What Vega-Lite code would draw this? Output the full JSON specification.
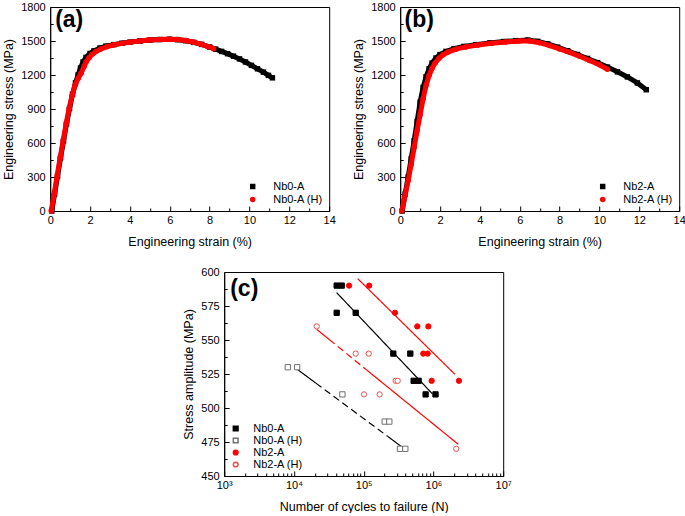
{
  "$schema": "https://vega.github.io/schema/vega-lite/v6.json",
  "padding": {"left": 2, "top": 0, "right": 0, "bottom": 0},
  "autosize": {"type": "pad"},
  "background": "white",
  "config": {
    "font": "Liberation Sans",
    "view": {"stroke": "#000", "strokeWidth": 1},
    "axis": {"grid": false, "domainColor": "#000", "tickColor": "#000", "labelColor": "#000", "titleColor": "#000", "labelFont": "Liberation Sans", "titleFont": "Liberation Sans", "labelFontSize": 11, "titleFontSize": 12.5, "titleFontWeight": "normal", "labelFlush": false, "labelOverlap": false, "labelBound": false, "tickWidth": 1, "domainWidth": 1},
    "legend": {"labelFont": "Liberation Sans", "labelFontSize": 11, "labelColor": "#000", "padding": 0}
  },
  "datasets": {
    "a": [
      {"s": "Nb0-A", "x": 0.08, "y": 0}, {"s": "Nb0-A", "x": 0.22, "y": 150}, {"s": "Nb0-A", "x": 0.37, "y": 310}, {"s": "Nb0-A", "x": 0.52, "y": 470}, {"s": "Nb0-A", "x": 0.67, "y": 620}, {"s": "Nb0-A", "x": 0.82, "y": 770}, {"s": "Nb0-A", "x": 0.97, "y": 905}, {"s": "Nb0-A", "x": 1.12, "y": 1030}, {"s": "Nb0-A", "x": 1.27, "y": 1130}, {"s": "Nb0-A", "x": 1.40, "y": 1200}, {"s": "Nb0-A", "x": 1.52, "y": 1262}, {"s": "Nb0-A", "x": 1.65, "y": 1315}, {"s": "Nb0-A", "x": 1.80, "y": 1355}, {"s": "Nb0-A", "x": 2.00, "y": 1390}, {"s": "Nb0-A", "x": 2.20, "y": 1413}, {"s": "Nb0-A", "x": 2.50, "y": 1438}, {"s": "Nb0-A", "x": 2.80, "y": 1455}, {"s": "Nb0-A", "x": 3.20, "y": 1468}, {"s": "Nb0-A", "x": 3.60, "y": 1480}, {"s": "Nb0-A", "x": 4.00, "y": 1490}, {"s": "Nb0-A", "x": 4.50, "y": 1500}, {"s": "Nb0-A", "x": 5.00, "y": 1508}, {"s": "Nb0-A", "x": 5.50, "y": 1513}, {"s": "Nb0-A", "x": 6.00, "y": 1515}, {"s": "Nb0-A", "x": 6.40, "y": 1512}, {"s": "Nb0-A", "x": 6.80, "y": 1503}, {"s": "Nb0-A", "x": 7.20, "y": 1488}, {"s": "Nb0-A", "x": 7.60, "y": 1470}, {"s": "Nb0-A", "x": 8.00, "y": 1447}, {"s": "Nb0-A", "x": 8.30, "y": 1428}, {"s": "Nb0-A", "x": 8.60, "y": 1408}, {"s": "Nb0-A", "x": 8.90, "y": 1388}, {"s": "Nb0-A", "x": 9.20, "y": 1366}, {"s": "Nb0-A", "x": 9.50, "y": 1342}, {"s": "Nb0-A", "x": 9.80, "y": 1315}, {"s": "Nb0-A", "x": 10.10, "y": 1285}, {"s": "Nb0-A", "x": 10.40, "y": 1255}, {"s": "Nb0-A", "x": 10.70, "y": 1225}, {"s": "Nb0-A", "x": 10.95, "y": 1197}, {"s": "Nb0-A", "x": 11.15, "y": 1175},
      {"s": "Nb0-A (H)", "x": 0.05, "y": 0}, {"s": "Nb0-A (H)", "x": 0.20, "y": 150}, {"s": "Nb0-A (H)", "x": 0.35, "y": 310}, {"s": "Nb0-A (H)", "x": 0.50, "y": 470}, {"s": "Nb0-A (H)", "x": 0.65, "y": 620}, {"s": "Nb0-A (H)", "x": 0.80, "y": 770}, {"s": "Nb0-A (H)", "x": 0.95, "y": 905}, {"s": "Nb0-A (H)", "x": 1.10, "y": 1020}, {"s": "Nb0-A (H)", "x": 1.25, "y": 1110}, {"s": "Nb0-A (H)", "x": 1.40, "y": 1170}, {"s": "Nb0-A (H)", "x": 1.55, "y": 1215}, {"s": "Nb0-A (H)", "x": 1.70, "y": 1275}, {"s": "Nb0-A (H)", "x": 1.80, "y": 1315}, {"s": "Nb0-A (H)", "x": 1.95, "y": 1352}, {"s": "Nb0-A (H)", "x": 2.10, "y": 1382}, {"s": "Nb0-A (H)", "x": 2.30, "y": 1407}, {"s": "Nb0-A (H)", "x": 2.55, "y": 1430}, {"s": "Nb0-A (H)", "x": 2.85, "y": 1450}, {"s": "Nb0-A (H)", "x": 3.20, "y": 1466}, {"s": "Nb0-A (H)", "x": 3.60, "y": 1479}, {"s": "Nb0-A (H)", "x": 4.00, "y": 1490}, {"s": "Nb0-A (H)", "x": 4.50, "y": 1500}, {"s": "Nb0-A (H)", "x": 5.00, "y": 1508}, {"s": "Nb0-A (H)", "x": 5.50, "y": 1513}, {"s": "Nb0-A (H)", "x": 6.00, "y": 1516}, {"s": "Nb0-A (H)", "x": 6.40, "y": 1513}, {"s": "Nb0-A (H)", "x": 6.80, "y": 1504}, {"s": "Nb0-A (H)", "x": 7.20, "y": 1489}, {"s": "Nb0-A (H)", "x": 7.60, "y": 1471}, {"s": "Nb0-A (H)", "x": 7.90, "y": 1452}, {"s": "Nb0-A (H)", "x": 8.20, "y": 1432}
    ],
    "b": [
      {"s": "Nb2-A", "x": 0.10, "y": 0}, {"s": "Nb2-A", "x": 0.25, "y": 150}, {"s": "Nb2-A", "x": 0.40, "y": 300}, {"s": "Nb2-A", "x": 0.55, "y": 460}, {"s": "Nb2-A", "x": 0.70, "y": 620}, {"s": "Nb2-A", "x": 0.85, "y": 790}, {"s": "Nb2-A", "x": 1.00, "y": 960}, {"s": "Nb2-A", "x": 1.15, "y": 1090}, {"s": "Nb2-A", "x": 1.30, "y": 1185}, {"s": "Nb2-A", "x": 1.45, "y": 1255}, {"s": "Nb2-A", "x": 1.60, "y": 1305}, {"s": "Nb2-A", "x": 1.80, "y": 1350}, {"s": "Nb2-A", "x": 2.00, "y": 1380}, {"s": "Nb2-A", "x": 2.30, "y": 1408}, {"s": "Nb2-A", "x": 2.70, "y": 1432}, {"s": "Nb2-A", "x": 3.20, "y": 1452}, {"s": "Nb2-A", "x": 3.80, "y": 1468}, {"s": "Nb2-A", "x": 4.50, "y": 1483}, {"s": "Nb2-A", "x": 5.20, "y": 1495}, {"s": "Nb2-A", "x": 5.80, "y": 1503}, {"s": "Nb2-A", "x": 6.40, "y": 1508}, {"s": "Nb2-A", "x": 6.90, "y": 1497}, {"s": "Nb2-A", "x": 7.40, "y": 1474}, {"s": "Nb2-A", "x": 7.90, "y": 1445}, {"s": "Nb2-A", "x": 8.40, "y": 1414}, {"s": "Nb2-A", "x": 8.90, "y": 1381}, {"s": "Nb2-A", "x": 9.40, "y": 1346}, {"s": "Nb2-A", "x": 9.90, "y": 1309}, {"s": "Nb2-A", "x": 10.40, "y": 1270}, {"s": "Nb2-A", "x": 10.90, "y": 1228}, {"s": "Nb2-A", "x": 11.40, "y": 1183}, {"s": "Nb2-A", "x": 11.90, "y": 1130}, {"s": "Nb2-A", "x": 12.35, "y": 1070},
      {"s": "Nb2-A (H)", "x": 0.08, "y": 0}, {"s": "Nb2-A (H)", "x": 0.25, "y": 140}, {"s": "Nb2-A (H)", "x": 0.40, "y": 270}, {"s": "Nb2-A (H)", "x": 0.55, "y": 410}, {"s": "Nb2-A (H)", "x": 0.70, "y": 560}, {"s": "Nb2-A (H)", "x": 0.85, "y": 710}, {"s": "Nb2-A (H)", "x": 1.00, "y": 850}, {"s": "Nb2-A (H)", "x": 1.15, "y": 990}, {"s": "Nb2-A (H)", "x": 1.30, "y": 1110}, {"s": "Nb2-A (H)", "x": 1.45, "y": 1195}, {"s": "Nb2-A (H)", "x": 1.60, "y": 1260}, {"s": "Nb2-A (H)", "x": 1.75, "y": 1305}, {"s": "Nb2-A (H)", "x": 1.95, "y": 1348}, {"s": "Nb2-A (H)", "x": 2.15, "y": 1378}, {"s": "Nb2-A (H)", "x": 2.40, "y": 1402}, {"s": "Nb2-A (H)", "x": 2.80, "y": 1428}, {"s": "Nb2-A (H)", "x": 3.30, "y": 1448}, {"s": "Nb2-A (H)", "x": 3.90, "y": 1465}, {"s": "Nb2-A (H)", "x": 4.60, "y": 1480}, {"s": "Nb2-A (H)", "x": 5.30, "y": 1492}, {"s": "Nb2-A (H)", "x": 6.00, "y": 1500}, {"s": "Nb2-A (H)", "x": 6.50, "y": 1500}, {"s": "Nb2-A (H)", "x": 7.00, "y": 1485}, {"s": "Nb2-A (H)", "x": 7.50, "y": 1460}, {"s": "Nb2-A (H)", "x": 8.00, "y": 1430}, {"s": "Nb2-A (H)", "x": 8.50, "y": 1400}, {"s": "Nb2-A (H)", "x": 9.00, "y": 1365}, {"s": "Nb2-A (H)", "x": 9.50, "y": 1328}, {"s": "Nb2-A (H)", "x": 10.00, "y": 1290}, {"s": "Nb2-A (H)", "x": 10.40, "y": 1250}
    ],
    "cpts": [
      {"s": "Nb0-A", "x": 41000, "y": 590}, {"s": "Nb0-A", "x": 48400, "y": 590}, {"s": "Nb0-A", "x": 41000, "y": 570}, {"s": "Nb0-A", "x": 76800, "y": 570}, {"s": "Nb0-A", "x": 266000, "y": 540}, {"s": "Nb0-A", "x": 466000, "y": 540}, {"s": "Nb0-A", "x": 520000, "y": 520}, {"s": "Nb0-A", "x": 613000, "y": 520}, {"s": "Nb0-A", "x": 772000, "y": 510}, {"s": "Nb0-A", "x": 1070000, "y": 510},
      {"s": "Nb0-A (H)", "x": 8160, "y": 530}, {"s": "Nb0-A (H)", "x": 11100, "y": 530}, {"s": "Nb0-A (H)", "x": 49500, "y": 510}, {"s": "Nb0-A (H)", "x": 200000, "y": 490}, {"s": "Nb0-A (H)", "x": 233000, "y": 490}, {"s": "Nb0-A (H)", "x": 331000, "y": 470}, {"s": "Nb0-A (H)", "x": 395000, "y": 470},
      {"s": "Nb2-A", "x": 61700, "y": 590}, {"s": "Nb2-A", "x": 120000, "y": 590}, {"s": "Nb2-A", "x": 281000, "y": 570}, {"s": "Nb2-A", "x": 587000, "y": 560}, {"s": "Nb2-A", "x": 844000, "y": 560}, {"s": "Nb2-A", "x": 715000, "y": 540}, {"s": "Nb2-A", "x": 825000, "y": 540}, {"s": "Nb2-A", "x": 942000, "y": 520}, {"s": "Nb2-A", "x": 2320000, "y": 520},
      {"s": "Nb2-A (H)", "x": 21200, "y": 560}, {"s": "Nb2-A (H)", "x": 76800, "y": 540}, {"s": "Nb2-A (H)", "x": 118000, "y": 540}, {"s": "Nb2-A (H)", "x": 101000, "y": 510}, {"s": "Nb2-A (H)", "x": 169000, "y": 510}, {"s": "Nb2-A (H)", "x": 287000, "y": 520}, {"s": "Nb2-A (H)", "x": 307000, "y": 520}, {"s": "Nb2-A (H)", "x": 2120000, "y": 470}
    ],
    "clines": [
      {"g": "k", "seg": "k1", "part": "solid", "x": 41000, "y": 584.8}, {"g": "k", "seg": "k1", "part": "solid", "x": 962000, "y": 510.5},
      {"g": "k", "seg": "k2", "part": "solid", "x": 10400, "y": 529.6}, {"g": "k", "seg": "k2", "part": "solid", "x": 20600, "y": 518.3},
      {"g": "k", "seg": "k3", "part": "dash", "x": 20600, "y": 518.3}, {"g": "k", "seg": "k3", "part": "dash", "x": 220000, "y": 479.2},
      {"g": "k", "seg": "k4", "part": "solid", "x": 220000, "y": 479.2}, {"g": "k", "seg": "k4", "part": "solid", "x": 380000, "y": 470.1},
      {"g": "r", "seg": "r1", "part": "solid", "x": 82000, "y": 595.1}, {"g": "r", "seg": "r1", "part": "solid", "x": 2030000, "y": 524.8},
      {"g": "r", "seg": "r2", "part": "solid", "x": 21200, "y": 557.8}, {"g": "r", "seg": "r2", "part": "solid", "x": 32000, "y": 550.4},
      {"g": "r", "seg": "r3", "part": "dash", "x": 32000, "y": 550.4}, {"g": "r", "seg": "r3", "part": "dash", "x": 107000, "y": 528.5},
      {"g": "r", "seg": "r4", "part": "solid", "x": 107000, "y": 528.5}, {"g": "r", "seg": "r4", "part": "solid", "x": 2270000, "y": 473.3}
    ]
  },
  "resolve": {
    "scale": {"x": "independent", "y": "independent", "color": "independent", "shape": "independent", "fill": "independent", "strokeDash": "independent"},
    "legend": {"color": "independent", "shape": "independent", "fill": "independent", "strokeDash": "independent"}
  },
  "vconcat": [
    {
      "resolve": {
        "scale": {"x": "independent", "y": "independent", "color": "independent", "shape": "independent"},
        "legend": {"color": "independent", "shape": "independent"}
      },
      "hconcat": [
        {
          "width": 279, "height": 204,
          "encoding": {
            "x": {"field": "x", "type": "quantitative", "scale": {"domain": [0, 14], "nice": false, "zero": false},
              "axis": {"title": "Engineering strain (%)", "values": [0,1,2,3,4,5,6,7,8,9,10,11,12,13,14], "labelExpr": "datum.value % 2 == 0 ? '' + datum.value : ''", "tickSize": {"condition": {"test": "datum.value % 2 == 0", "value": -5}, "value": -3}, "labelPadding": 8, "titlePadding": 8}},
            "y": {"field": "y", "type": "quantitative", "scale": {"domain": [0, 1800], "nice": false, "zero": false},
              "axis": {"title": "Engineering stress (MPa)", "values": [0,150,300,450,600,750,900,1050,1200,1350,1500,1650,1800], "labelExpr": "datum.value % 300 == 0 ? '' + datum.value : ''", "tickSize": {"condition": {"test": "datum.value % 300 == 0", "value": -5}, "value": -3}, "labelPadding": 10, "titlePadding": 5}}
          },
          "layer": [
            {"data": {"name": "a"}, "transform": [{"filter": "datum.s == 'Nb0-A'"}], "mark": {"type": "line", "color": "#000", "strokeWidth": 5}},
            {"data": {"name": "a"}, "mark": {"type": "point", "filled": true, "size": 30, "opacity": 1},
              "encoding": {
                "color": {"field": "s", "type": "nominal", "scale": {"domain": ["Nb0-A", "Nb0-A (H)"], "range": ["#000000", "#ff0000"]}, "legend": {"title": null, "orient": "bottom-right", "offset": 6, "labelOffset": 15, "rowPadding": 1, "symbolSize": 30}},
                "shape": {"field": "s", "type": "nominal", "scale": {"domain": ["Nb0-A", "Nb0-A (H)"], "range": ["square", "circle"]}, "legend": {"title": null, "orient": "bottom-right", "offset": 6, "labelOffset": 15, "rowPadding": 1, "symbolSize": 30}}
              }},
            {"data": {"name": "a"}, "transform": [{"filter": "datum.s == 'Nb0-A (H)'"}], "mark": {"type": "line", "color": "#ff0000", "strokeWidth": 5}},
            {"data": {"values": [{"x": 0.25, "y": 1620, "t": "(a)"}]}, "mark": {"type": "text", "align": "left", "baseline": "alphabetic", "fontSize": 23, "fontWeight": "bold", "font": "Liberation Sans", "color": "#000"}, "encoding": {"text": {"field": "t"}}}
          ]
        },
        {
          "width": 279, "height": 204,
          "encoding": {
            "x": {"field": "x", "type": "quantitative", "scale": {"domain": [0, 14], "nice": false, "zero": false},
              "axis": {"title": "Engineering strain (%)", "values": [0,1,2,3,4,5,6,7,8,9,10,11,12,13,14], "labelExpr": "datum.value % 2 == 0 ? '' + datum.value : ''", "tickSize": {"condition": {"test": "datum.value % 2 == 0", "value": -5}, "value": -3}, "labelPadding": 8, "titlePadding": 8}},
            "y": {"field": "y", "type": "quantitative", "scale": {"domain": [0, 1800], "nice": false, "zero": false},
              "axis": {"title": "Engineering stress (MPa)", "values": [0,150,300,450,600,750,900,1050,1200,1350,1500,1650,1800], "labelExpr": "datum.value % 300 == 0 ? '' + datum.value : ''", "tickSize": {"condition": {"test": "datum.value % 300 == 0", "value": -5}, "value": -3}, "labelPadding": 10, "titlePadding": 5}}
          },
          "layer": [
            {"data": {"name": "b"}, "transform": [{"filter": "datum.s == 'Nb2-A'"}], "mark": {"type": "line", "color": "#000", "strokeWidth": 5}},
            {"data": {"name": "b"}, "mark": {"type": "point", "filled": true, "size": 30, "opacity": 1},
              "encoding": {
                "color": {"field": "s", "type": "nominal", "scale": {"domain": ["Nb2-A", "Nb2-A (H)"], "range": ["#000000", "#ff0000"]}, "legend": {"title": null, "orient": "bottom-right", "offset": 6, "labelOffset": 15, "rowPadding": 1, "symbolSize": 30}},
                "shape": {"field": "s", "type": "nominal", "scale": {"domain": ["Nb2-A", "Nb2-A (H)"], "range": ["square", "circle"]}, "legend": {"title": null, "orient": "bottom-right", "offset": 6, "labelOffset": 15, "rowPadding": 1, "symbolSize": 30}}
              }},
            {"data": {"name": "b"}, "transform": [{"filter": "datum.s == 'Nb2-A (H)'"}], "mark": {"type": "line", "color": "#ff0000", "strokeWidth": 5}},
            {"data": {"values": [{"x": 0.22, "y": 1620, "t": "(b)"}]}, "mark": {"type": "text", "align": "left", "baseline": "alphabetic", "fontSize": 23, "fontWeight": "bold", "font": "Liberation Sans", "color": "#000"}, "encoding": {"text": {"field": "t"}}}
          ]
        }
      ],
      "spacing": 16
    },
    {
      "width": 279, "height": 204,
      "encoding": {
        "x": {"field": "x", "type": "quantitative", "scale": {"type": "log", "domain": [1000, 10000000], "nice": false},
          "axis": {"title": "Number of cycles to failure (N)", "values": [1000,2000,3000,4000,5000,6000,7000,8000,9000,10000,20000,30000,40000,50000,60000,70000,80000,90000,100000,200000,300000,400000,500000,600000,700000,800000,900000,1000000,2000000,3000000,4000000,5000000,6000000,7000000,8000000,9000000,10000000],
            "labelExpr": "datum.value == 1000 ? '10³' : datum.value == 10000 ? '10⁴' : datum.value == 100000 ? '10⁵' : datum.value == 1000000 ? '10⁶' : datum.value == 10000000 ? '10⁷' : ''",
            "tickSize": {"condition": {"test": "indexof([1000,10000,100000,1000000,10000000], datum.value) >= 0", "value": -5}, "value": -3}, "labelPadding": 8, "titlePadding": 8}},
        "y": {"field": "y", "type": "quantitative", "scale": {"domain": [450, 600], "nice": false, "zero": false},
          "axis": {"title": "Stress amplitude (MPa)", "values": [450,462.5,475,487.5,500,512.5,525,537.5,550,562.5,575,587.5,600], "labelExpr": "datum.value % 25 == 0 ? '' + datum.value : ''", "tickSize": {"condition": {"test": "datum.value % 25 == 0", "value": -5}, "value": -3}, "labelPadding": 10, "titlePadding": 5}}
      },
      "layer": [
        {"data": {"name": "clines"}, "transform": [{"filter": "datum.g == 'k'"}], "mark": {"type": "line", "color": "#000", "strokeWidth": 1.2},
          "encoding": {"detail": {"field": "seg"}, "strokeDash": {"field": "part", "type": "nominal", "scale": {"domain": ["solid", "dash"], "range": [[1, 0], [7, 4]]}, "legend": null}}},
        {"data": {"name": "clines"}, "transform": [{"filter": "datum.g == 'r'"}], "mark": {"type": "line", "color": "#ff0000", "strokeWidth": 1.2},
          "encoding": {"detail": {"field": "seg"}, "strokeDash": {"field": "part", "type": "nominal", "scale": {"domain": ["solid", "dash"], "range": [[1, 0], [7, 4]]}, "legend": null}}},
        {"data": {"name": "cpts"}, "mark": {"type": "point", "filled": false, "size": 28, "strokeWidth": 1, "opacity": 1},
          "encoding": {
            "color": {"field": "s", "type": "nominal", "scale": {"domain": ["Nb0-A", "Nb0-A (H)", "Nb2-A", "Nb2-A (H)"], "range": ["#000000", "#707070", "#ff0000", "#e85050"]}, "legend": {"title": null, "orient": "bottom-left", "offset": 6, "labelOffset": 12, "rowPadding": 0, "symbolSize": 22}},
            "fill": {"field": "s", "type": "nominal", "scale": {"domain": ["Nb0-A", "Nb0-A (H)", "Nb2-A", "Nb2-A (H)"], "range": ["#000000", "#ffffff", "#ff0000", "#ffffff"]}, "legend": {"title": null, "orient": "bottom-left", "offset": 6, "labelOffset": 12, "rowPadding": 0, "symbolSize": 22}},
            "shape": {"field": "s", "type": "nominal", "scale": {"domain": ["Nb0-A", "Nb0-A (H)", "Nb2-A", "Nb2-A (H)"], "range": ["square", "square", "circle", "circle"]}, "legend": {"title": null, "orient": "bottom-left", "offset": 6, "labelOffset": 12, "rowPadding": 0, "symbolSize": 22}}
          }},
        {"data": {"values": [{"x": 1219, "y": 582.4, "t": "(c)"}]}, "mark": {"type": "text", "align": "left", "baseline": "alphabetic", "fontSize": 23, "fontWeight": "bold", "font": "Liberation Sans", "color": "#000"}, "encoding": {"text": {"field": "t"}}}
      ]
    }
  ],
  "spacing": 17,
  "center": true
}
